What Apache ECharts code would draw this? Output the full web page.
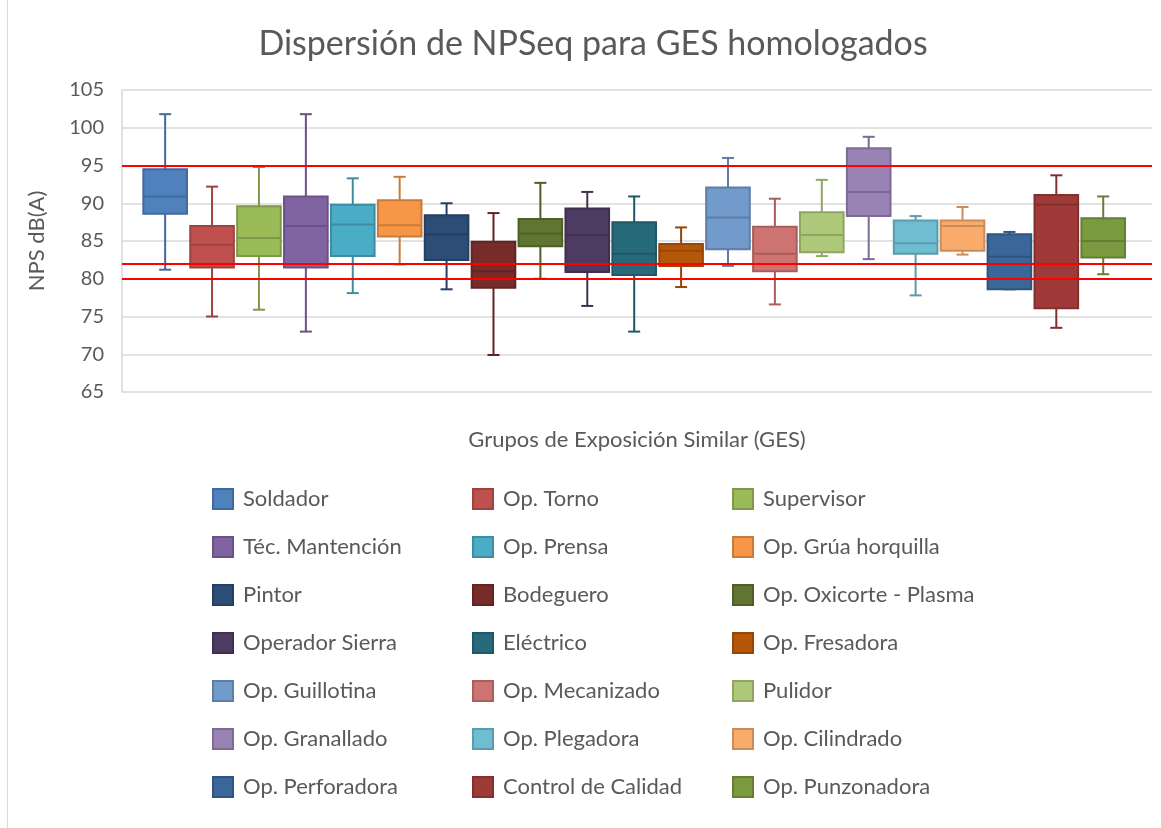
<!DOCTYPE html>
<html>
<head>
<meta charset="utf-8">
<title>Dispersión de NPSeq para GES homologados</title>
<script src="https://cdn.jsdelivr.net/npm/echarts@6/dist/echarts.min.js"></script>
<style>
  html, body { margin: 0; padding: 0; background: #fff; }
  #chart { width: 1161px; height: 828px; }
</style>
</head>
<body>
<div id="chart"></div>
<script>
// grupos de exposición similar (GES)
const groups = [
  'Soldador', 'Op. Torno', 'Supervisor',
  'Téc. Mantención', 'Op. Prensa', 'Op. Grúa horquilla',
  'Pintor', 'Bodeguero', 'Op. Oxicorte - Plasma',
  'Operador Sierra', 'Eléctrico', 'Op. Fresadora',
  'Op. Guillotina', 'Op. Mecanizado', 'Pulidor',
  'Op. Granallado', 'Op. Plegadora', 'Op. Cilindrado',
  'Op. Perforadora', 'Control de Calidad', 'Op. Punzonadora'
]

// NPSeq dB(A)
const minValues = [81.2, 75.0, 75.9, 73.0, 78.1, 81.9, 78.6, 69.9, 80.0, 76.4, 73.0, 78.9, 81.7, 76.6, 83.0, 82.6, 77.8, 83.2, 78.6, 73.5, 80.6]
const q1Values = [88.6, 81.5, 83.0, 81.5, 83.0, 85.6, 82.5, 78.8, 84.3, 80.9, 80.5, 81.7, 83.9, 81.0, 83.5, 88.3, 83.3, 83.7, 78.6, 76.1, 82.8]
const medianValues = [90.9, 84.5, 85.4, 87.0, 87.2, 87.1, 85.9, 81.0, 86.0, 85.8, 83.3, 83.7, 88.1, 83.3, 85.8, 91.5, 84.7, 87.0, 82.9, 89.8, 85.0]
const q3Values = [94.5, 87.0, 89.6, 90.9, 89.8, 90.4, 88.4, 84.9, 87.9, 89.3, 87.5, 84.6, 92.1, 86.9, 88.8, 97.3, 87.7, 87.7, 85.9, 91.1, 88.0]
const maxValues = [101.8, 92.2, 94.8, 101.8, 93.3, 93.5, 90.0, 88.7, 92.7, 91.5, 90.9, 86.8, 96.0, 90.6, 93.1, 98.8, 88.3, 89.5, 86.2, 93.7, 90.9]

// límites de referencia (líneas rojas)
const limitValues = [95, 82, 80]

// eje Y
const yMin = 65
const yMax = 105
const yStep = 5

const colors = [
  '#4F81BD', '#C0504D', '#9BBB59', '#8064A2', '#4BACC6', '#F79646',
  '#2C4D75', '#772C2A', '#5F7530', '#4D3B62', '#276A7C', '#B65708',
  '#729ACA', '#CD7371', '#AFC97A', '#9983B5', '#6FBDD1', '#F9AB6B',
  '#3A6699', '#9E3A38', '#7B9A3F'
]

const FONT = 'Lato, "Open Sans", sans-serif'
const GREY = '#595959'

function darken (hex, f) {
  const n = parseInt(hex.slice(1), 16)
  const r = Math.round(((n >> 16) & 255) * f)
  const g = Math.round(((n >> 8) & 255) * f)
  const b = Math.round((n & 255) * f)
  return 'rgb(' + r + ',' + g + ',' + b + ')'
}

// caja estilo Excel: bigotes con remate corto
function boxRenderer (lineColor) {
  return function (params, api) {
    const x = api.value(0)
    const pLow = api.coord([x, api.value(1)])
    const pQ1 = api.coord([x, api.value(2)])
    const pMed = api.coord([x, api.value(3)])
    const pQ3 = api.coord([x, api.value(4)])
    const pHigh = api.coord([x, api.value(5)])
    const boxW = api.size([1, 0])[0] * 0.93
    const half = boxW / 2
    const cx = pMed[0]
    const cap = 6
    const line = { stroke: lineColor, lineWidth: 2 }
    return {
      type: 'group',
      children: [
        { type: 'line', shape: { x1: cx, y1: pHigh[1], x2: cx, y2: pQ3[1] }, style: line },
        { type: 'line', shape: { x1: cx, y1: pQ1[1], x2: cx, y2: pLow[1] }, style: line },
        { type: 'line', shape: { x1: cx - cap, y1: pHigh[1], x2: cx + cap, y2: pHigh[1] }, style: line },
        { type: 'line', shape: { x1: cx - cap, y1: pLow[1], x2: cx + cap, y2: pLow[1] }, style: line },
        {
          type: 'rect',
          shape: { x: cx - half, y: pQ3[1], width: boxW, height: pQ1[1] - pQ3[1] },
          style: { fill: api.visual('color'), stroke: lineColor, lineWidth: 2 }
        },
        { type: 'line', shape: { x1: cx - half, y1: pMed[1], x2: cx + half, y2: pMed[1] }, style: line }
      ]
    }
  }
}

const series = groups.map((name, i) => {
  const s = {
    name: name,
    type: 'custom',
    renderItem: boxRenderer(darken(colors[i], 0.82)),
    itemStyle: { color: colors[i], borderColor: darken(colors[i], 0.82), borderWidth: 1 },
    encode: { x: 0, y: [1, 2, 3, 4, 5] },
    data: [[i, minValues[i], q1Values[i], medianValues[i], q3Values[i], maxValues[i]]]
  }
  if (i === groups.length - 1) {
    s.markLine = {
      silent: true,
      symbol: 'none',
      label: { show: false },
      lineStyle: { color: '#FF0000', width: 2, type: 'solid' },
      data: limitValues.map(v => ({ yAxis: v }))
    }
  }
  return s
})

// leyenda en 3 columnas, como en Excel
const legendColumns = [207, 467, 727]
const legends = legendColumns.map((left, col) => ({
  orient: 'vertical',
  left: left,
  top: 483,
  icon: 'rect',
  itemWidth: 20,
  itemHeight: 20,
  itemGap: 26,
  selectedMode: false,
  textStyle: { fontSize: 22, color: GREY, fontFamily: FONT, padding: [0, 0, 0, 5] },
  data: groups.filter((g, i) => i % 3 === col)
}))

const option = {
  animation: false,
  backgroundColor: '#fff',
  textStyle: { fontFamily: FONT },
  title: {
    text: 'Dispersión de NPSeq para GES homologados',
    left: 588,
    top: 22,
    textAlign: 'center',
    textStyle: { fontSize: 34, fontWeight: 'normal', color: GREY, fontFamily: FONT }
  },
  graphic: [
    { type: 'line', shape: { x1: 7.5, y1: 0, x2: 7.5, y2: 828 }, style: { stroke: '#D9D9D9', lineWidth: 1 } }
  ],
  grid: { left: 122, right: 9, top: 90, bottom: 436, containLabel: false },
  xAxis: {
    type: 'value',
    min: -0.92,
    max: 21.04,
    name: 'Grupos de Exposición Similar (GES)',
    nameLocation: 'middle',
    nameGap: 37,
    nameTextStyle: { fontSize: 22, color: GREY, fontFamily: FONT },
    axisLine: { show: false },
    axisTick: { show: false },
    axisLabel: { show: false },
    splitLine: { show: false }
  },
  yAxis: {
    type: 'value',
    min: yMin,
    max: yMax,
    interval: yStep,
    name: 'NPS dB(A)',
    nameLocation: 'middle',
    nameGap: 74,
    nameTextStyle: { fontSize: 22, color: GREY, fontFamily: FONT },
    axisLine: { show: true, onZero: false, lineStyle: { color: '#D9D9D9', width: 1.5 } },
    axisTick: { show: false },
    axisLabel: { fontSize: 20, color: GREY, margin: 18, fontFamily: FONT },
    splitLine: { lineStyle: { color: '#D9D9D9', width: 1.5 } }
  },
  legend: legends,
  series: series
}

const chart = echarts.init(document.getElementById('chart'))
chart.setOption(option)
window.addEventListener('resize', () => chart.resize())
</script>
</body>
</html>
